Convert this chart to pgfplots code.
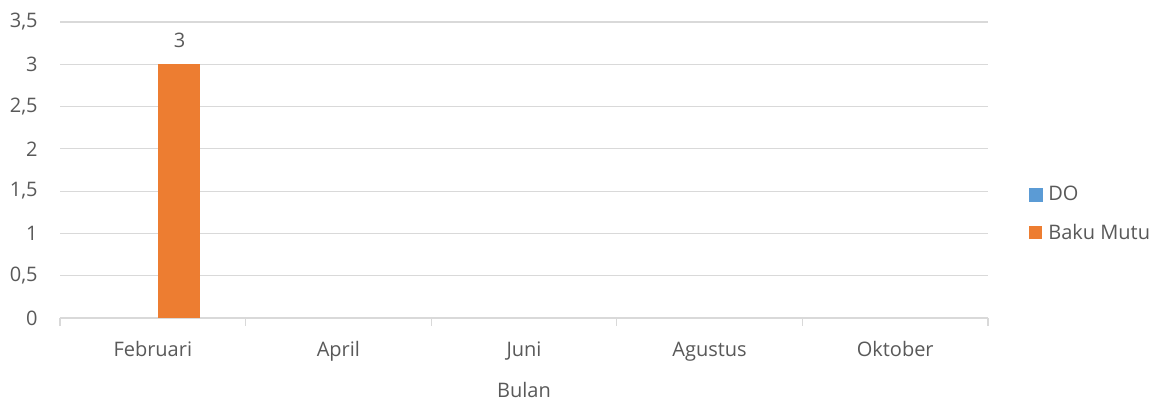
\documentclass[border=0pt]{standalone}
\usepackage{pgfplots}
\pgfplotsset{compat=1.18}
\usepackage{fontspec}
\setmainfont{Open Sans}
\definecolor{txt}{HTML}{595959}
\definecolor{gridc}{HTML}{D9D9D9}
\definecolor{doblue}{HTML}{5B9BD5}
\definecolor{orng}{HTML}{ED7D31}
\newcommand\lblfont{\fontsize{15}{18}\selectfont}
\begin{document}
\begin{tikzpicture}[x=1pt,y=1pt]
\path[use as bounding box] (0,0) rectangle (875.25,302.25);
\begin{axis}[
  at={(45pt,63.75pt)}, anchor=south west,
  scale only axis, width=696pt, height=222pt,
  xmin=-0.5, xmax=4.5, ymin=0, ymax=3.5,
  axis lines*=left,
  x axis line style={gridc, line width=1.2pt},
  y axis line style={draw=none},
  xtick={0,1,2,3,4},
  xticklabels={Februari,April,Juni,Agustus,Oktober},
  minor xtick={-0.5,0.5,1.5,2.5,3.5,4.5},
  major x tick style={draw=none},
  minor x tick style={gridc, line width=0.9pt},
  minor tick length=6pt,
  tick align=outside,
  ytick={0,0.5,...,3.5},
  major y tick style={draw=none},
  ymajorgrids,
  major grid style={gridc, line width=0.8pt},
  /pgf/number format/use comma,
  /pgf/number format/assume math mode=true,
  tick label style={font=\lblfont, text=txt},
  xticklabel style={yshift=-10pt},
  yticklabel style={xshift=-9pt},
  xlabel={Bulan},
  every axis x label/.style={at={(axis description cs:0.5,0)}, anchor=center, yshift=-54pt, font=\lblfont, text=txt},
  legend style={draw=none, fill=none, at={(1.044,0.352)}, anchor=west, font=\lblfont, text=txt, row sep=12pt, inner sep=0pt},
  legend cell align=left,
]
\addlegendimage{legend image code/.code={\fill[doblue] (0pt,-4.875pt) rectangle (9.75pt,4.875pt); \path (12pt,0pt);}}
\addlegendentry{DO}
\addplot[ybar, fill=orng, draw=none, bar width=31.5pt, bar shift=20pt,
  nodes near coords, nodes near coords align={above},
  every node near coord/.append style={font=\lblfont, text=txt, yshift=9pt, xshift=20pt},
  legend image code/.code={\fill[orng] (0pt,-4.875pt) rectangle (9.75pt,4.875pt); \path (12pt,0pt);}]
  coordinates {(0,3)};
\addlegendentry{Baku Mutu}
\end{axis}
\end{tikzpicture}
\end{document}
